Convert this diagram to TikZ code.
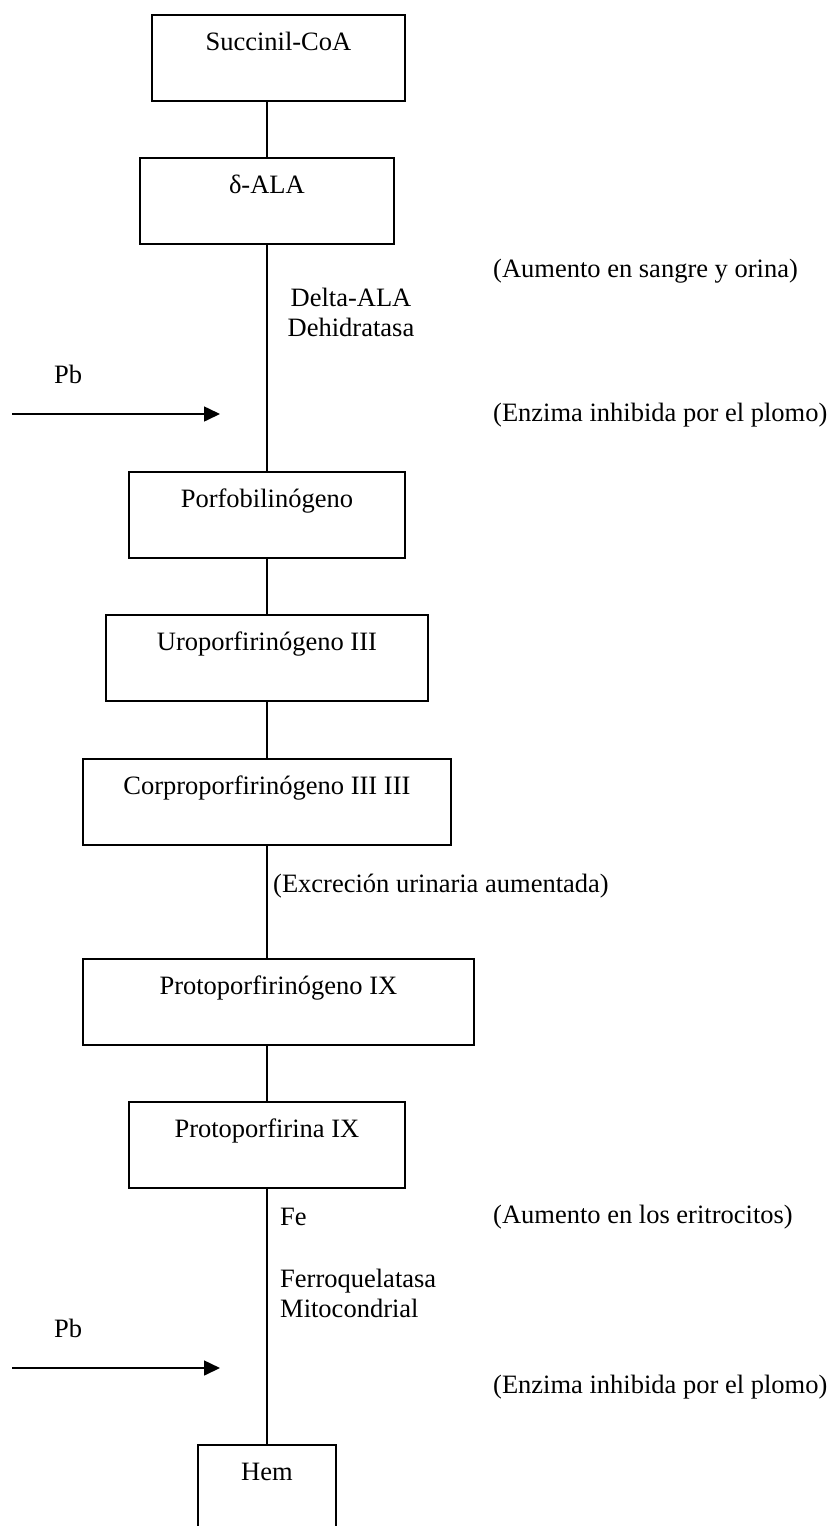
\documentclass[tikz,border=0pt]{standalone}
\usepackage{fontspec}
\setmainfont{Liberation Serif}
\usetikzlibrary{arrows.meta}

\tikzset{
  txt/.style={font=\fontsize{26.5}{30}\selectfont, inner sep=0pt},
  box/.style={txt, draw, line width=1.8pt, text height=36pt, text depth=50pt,
              minimum height=86pt, anchor=north west},
  link/.style={line width=1.6pt},
  inhib/.style={line width=1.6pt, -{Triangle[length=16pt,width=15pt]}},
  note/.style={txt, anchor=base west},
}

\begin{document}
\begin{tikzpicture}[x=1pt, y=-1pt]
  \useasboundingbox (0,0) rectangle (832,1526);
  \clip (0,0) rectangle (832,1526);

  % metabolites of the heme pathway
  \node[box, minimum width=253pt] (sa)   at (151,14)   {Succinil-CoA};
  \node[box, minimum width=254pt] (ala)  at (139,157)  {δ-ALA};
  \node[box, minimum width=276pt] (pbg)  at (128,471)  {Porfobilinógeno};
  \node[box, minimum width=322pt] (uro)  at (105,614)  {Uroporfirinógeno III};
  \node[box, minimum width=368pt] (copro) at (82,758)  {Corproporfirinógeno III III};
  \node[box, minimum width=391pt] (protog) at (82,958) {Protoporfirinógeno IX};
  \node[box, minimum width=276pt] (proto) at (128,1101) {Protoporfirina IX};
  \node[box, minimum width=138pt] (hem)  at (197,1444) {Hem};

  % main chain, drawn on the common axis
  \draw[link] (ala.north) -- (ala.north |- sa.south);
  \draw[link] (ala.south) -- (pbg.north);
  \draw[link] (pbg.south) -- (uro.north);
  \draw[link] (uro.south) -- (copro.north);
  \draw[link] (copro.south) -- (copro.south |- protog.north);
  \draw[link] (proto.north) -- (proto.north |- protog.south);
  \draw[link] (proto.south) -- (hem.north);

  % enzyme labels beside the axis (base = last line)
  \node[txt, anchor=base, align=center] (dehid) at (351,336)
    {Delta-ALA\\Dehidratasa};
  \node[note] (excr) at (273,892) {(Excreción urinaria aumentada)};
  \node[note] (fe)   at (280,1225) {Fe};
  \node[note, align=left] (ferro) at (280,1317) {Ferroquelatasa\\Mitocondrial};

  % notes on the right
  \node[note] (n1) at (493,277)  {(Aumento en sangre y orina)};
  \node[note] (n2) at (493,421)  {(Enzima inhibida por el plomo)};
  \node[note] (n3) at (493,1223) {(Aumento en los eritrocitos)};
  \node[note] (n4) at (493,1393) {(Enzima inhibida por el plomo)};

  % lead inhibition arrows
  \node[note] (pb1) at (54,383)  {Pb};
  \coordinate (pb1s) at (12,414);
  \coordinate (pb1e) at (220,414);
  \draw[inhib] (pb1s) -- (pb1e);

  \node[note] (pb2) at (54,1337) {Pb};
  \coordinate (pb2s) at (12,1368);
  \coordinate (pb2e) at (220,1368);
  \draw[inhib] (pb2s) -- (pb2e);
\end{tikzpicture}
\end{document}
